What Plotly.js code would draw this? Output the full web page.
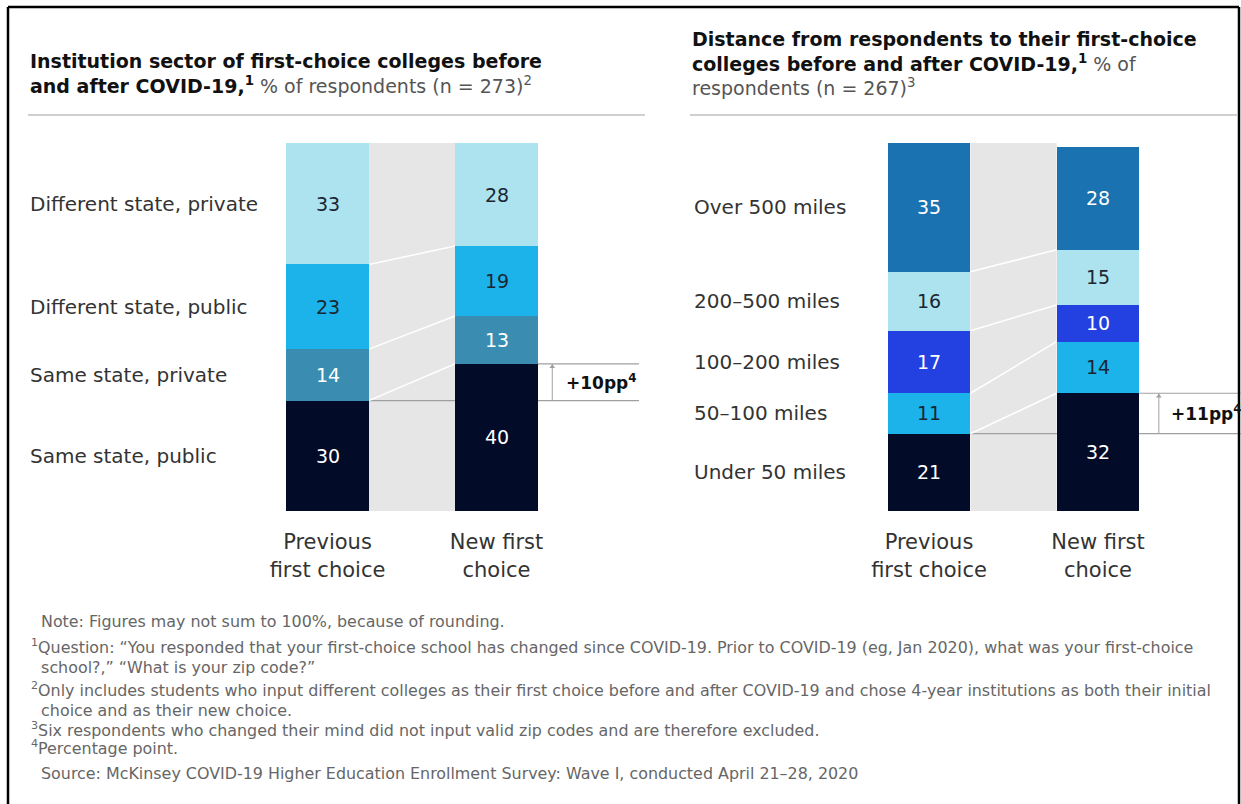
<!DOCTYPE html>
<html><head><meta charset="utf-8">
<script src="https://cdn.plot.ly/plotly-3.0.1.min.js"></script>
<style>html,body{margin:0;padding:0;background:#fff}</style>
</head><body><div id="chart" style="width:1241px;height:804px"></div>
<script>
// ---------- DATA ----------
const xLabels = ["Previous<br>first choice", "New first<br>choice"];

const sectorCategories = ["Same state, public", "Same state, private", "Different state, public", "Different state, private"];
const sectorPrevious = [30, 14, 23, 33];
const sectorNew = [40, 13, 19, 28];

const distanceCategories = ["Under 50 miles", "50–100 miles", "100–200 miles", "200–500 miles", "Over 500 miles"];
const distancePrevious = [21, 11, 17, 16, 35];
const distanceNew = [32, 14, 10, 15, 28];

const sectorTitle = "<b>Institution sector of first-choice colleges before<br>and after COVID-19,<sup>1</sup></b> <span style='color:#555'>% of respondents (n = 273)<sup>2</sup></span>";
const distanceTitle = "<b>Distance from respondents to their first-choice<br>colleges before and after COVID-19,<sup>1</sup></b> <span style='color:#555'>% of<br>respondents (n = 267)<sup>3</sup></span>";

const footnotes = [
  "Note: Figures may not sum to 100%, because of rounding.",
  "<sup>1</sup>Question: “You responded that your first-choice school has changed since COVID-19. Prior to COVID-19 (eg, Jan 2020), what was your first-choice<br>  school?,” “What is your zip code?”",
  "<sup>2</sup>Only includes students who input different colleges as their first choice before and after COVID-19 and chose 4-year institutions as both their initial<br>  choice and as their new choice.",
  "<sup>3</sup>Six respondents who changed their mind did not input valid zip codes and are therefore excluded.",
  "<sup>4</sup>Percentage point.",
  "Source: McKinsey COVID-19 Higher Education Enrollment Survey: Wave I, conducted April 21–28, 2020"
];

// ---------- STYLE ----------
const NAVY = "#020b28", TEAL = "#3a8db0", CYAN = "#1bb3ea", LIGHT = "#ade3ef", BLUE = "#2340e0", MID = "#1a72b0";
const sectorColors = [NAVY, TEAL, CYAN, LIGHT];
const sectorText = ["#ffffff", "#ffffff", "#1b2633", "#1b2633"];
const distanceColors = [NAVY, CYAN, BLUE, LIGHT, MID];
const distanceText = ["#ffffff", "#1b2633", "#ffffff", "#1b2633", "#ffffff"];

const FONT = "DejaVu Sans, Liberation Sans, Arial, sans-serif";
const W = 1241, H = 804;
const BARW = 0.49;
const px = v => v / W, py = v => 1 - v / H;

const data = [];
const shapes = [];
const annotations = [];

function cum(arr) { let s = 0; return arr.map(v => (s += v)); }

function buildChart(cats, prev, nxt, colors, textColors, xa, ya, xEnd, bracketX, labelX, catX) {
  cats.forEach((c, i) => {
    data.push({
      type: "bar", x: [0, 1], y: [prev[i], nxt[i]], name: c,
      xaxis: xa, yaxis: ya, width: BARW,
      marker: { color: colors[i], line: { width: 0 } },
      hoverinfo: "skip", showlegend: false
    });
  });
  const cp = cum(prev), cn = cum(nxt);
  // value labels at segment centres
  cats.forEach((c, i) => {
    [[0, cp[i] - prev[i] / 2, prev[i]], [1, cn[i] - nxt[i] / 2, nxt[i]]].forEach(([x, y, v]) => {
      annotations.push({ xref: xa, yref: ya, x: x, y: y, xanchor: "center", yanchor: "middle", showarrow: false,
        text: String(v), font: { family: FONT, size: 19, color: textColors[i] } });
    });
  });
  const top = Math.max(cp[cp.length - 1], cn[cn.length - 1]);
  // gray band between bars
  shapes.push({ type: "rect", xref: xa, yref: ya, x0: BARW / 2, x1: 1 - BARW / 2, y0: 0, y1: top,
    fillcolor: "#e6e6e6", line: { width: 0 }, layer: "below" });
  // reference line at top of previous bottom segment
  shapes.push({ type: "line", xref: xa, yref: ya, x0: BARW / 2, x1: xEnd, y0: cp[0], y1: cp[0],
    line: { color: "#a0a0a0", width: 1.2 }, layer: "below" });
  // connectors
  for (let k = 0; k < cats.length - 1; k++) {
    shapes.push({ type: "line", xref: xa, yref: ya, x0: BARW / 2, x1: 1 - BARW / 2, y0: cp[k], y1: cn[k],
      line: { color: "#ffffff", width: 1.5 }, layer: "below" });
  }
  // upper bracket line
  shapes.push({ type: "line", xref: xa, yref: ya, x0: 1 + BARW / 2, x1: xEnd, y0: cn[0], y1: cn[0],
    line: { color: "#a0a0a0", width: 1.2 }, layer: "below" });
  // vertical bracket
  shapes.push({ type: "line", xref: xa, yref: ya, x0: bracketX, x1: bracketX, y0: cp[0], y1: cn[0],
    line: { color: "#a0a0a0", width: 1 }, layer: "below" });
  // small arrowhead at top of bracket
  data.push({ type: "scatter", mode: "markers", x: [bracketX], y: [cn[0] - 0.8], xaxis: xa, yaxis: ya,
    marker: { symbol: "triangle-up", size: 5, color: "#a0a0a0" }, hoverinfo: "skip", showlegend: false, cliponaxis: false });
  annotations.push({ xref: xa, yref: ya, x: labelX, y: (cp[0] + cn[0]) / 2, xanchor: "left", yanchor: "middle",
    showarrow: false, text: "<b>+" + (nxt[0] - prev[0]) + "pp<sup>4</sup></b>",
    font: { family: FONT, size: 17, color: "#111" } });
  // category labels
  cats.forEach((c, i) => {
    annotations.push({ xref: "paper", yref: ya, x: catX, y: cp[i] - prev[i] / 2, xanchor: "left", yanchor: "middle",
      showarrow: false, text: c, font: { family: FONT, size: 20, color: "#333" } });
  });
}

buildChart(sectorCategories, sectorPrevious, sectorNew, sectorColors, sectorText, "x", "y", 1.843, 1.33, 1.40, px(28));
buildChart(distanceCategories, distancePrevious, distanceNew, distanceColors, distanceText, "x2", "y2", 1.845, 1.36, 1.42, px(692));

// titles
annotations.push({ xref: "paper", yref: "paper", x: px(28), y: py(74), xanchor: "left", yanchor: "middle", align: "left",
  showarrow: false, text: sectorTitle, font: { family: FONT, size: 19, color: "#111" } });
annotations.push({ xref: "paper", yref: "paper", x: px(690), y: py(64), xanchor: "left", yanchor: "middle", align: "left",
  showarrow: false, text: distanceTitle, font: { family: FONT, size: 19, color: "#111" } });

// title separators
shapes.push({ type: "line", xref: "paper", yref: "paper", x0: px(28), x1: px(645), y0: py(115), y1: py(115), line: { color: "#cfcfcf", width: 2 } });
shapes.push({ type: "line", xref: "paper", yref: "paper", x0: px(690), x1: px(1237), y0: py(115), y1: py(115), line: { color: "#cfcfcf", width: 2 } });

// footnotes
const footX = [39, 29, 29, 29, 29, 39];
const footY = [621, 656, 699, 729, 747, 773];
footnotes.forEach((t, i) => {
  annotations.push({ xref: "paper", yref: "paper", x: px(footX[i]), y: py(footY[i]), xanchor: "left", yanchor: "middle",
    align: "left", showarrow: false, text: t, font: { family: FONT, size: 15.9, color: "#666" } });
});

// frame
const fr = { color: "#000", width: 2.5 };
shapes.push({ type: "line", xref: "paper", yref: "paper", x0: px(8), x1: px(8), y0: py(7), y1: 0, line: fr });
shapes.push({ type: "line", xref: "paper", yref: "paper", x0: px(8), x1: px(1239), y0: py(7), y1: py(7), line: fr });
shapes.push({ type: "line", xref: "paper", yref: "paper", x0: px(1239), x1: px(1239), y0: py(7), y1: 0, line: fr });

const xBase = { tickvals: [0, 1], ticktext: xLabels, showgrid: false, zeroline: false, showline: false,
  ticks: "outside", ticklen: 12, tickcolor: "rgba(0,0,0,0)", tickfont: { family: FONT, size: 21, color: "#333" },
  fixedrange: true };
const yBase = { range: [0, 100], showticklabels: false, showgrid: false, zeroline: false, showline: false, ticks: "",
  fixedrange: true, domain: [1 - 511 / H, 1 - 143 / H] };

const layout = {
  width: W, height: H, margin: { l: 0, r: 0, t: 0, b: 0 },
  paper_bgcolor: "#fff", plot_bgcolor: "rgba(0,0,0,0)",
  barmode: "stack", showlegend: false,
  font: { family: FONT },
  xaxis: Object.assign({}, xBase, { domain: [px(243), px(648.6)], range: [-0.5, 1.9], anchor: "y" }),
  yaxis: Object.assign({}, yBase, { anchor: "x" }),
  xaxis2: Object.assign({}, xBase, { domain: [px(844.5), px(1240.8)], range: [-0.5, 1.845], anchor: "y2" }),
  yaxis2: Object.assign({}, yBase, { anchor: "x2" }),
  shapes: shapes, annotations: annotations
};

Plotly.newPlot("chart", data, layout, { displayModeBar: false, staticPlot: true });
</script>
</body></html>
